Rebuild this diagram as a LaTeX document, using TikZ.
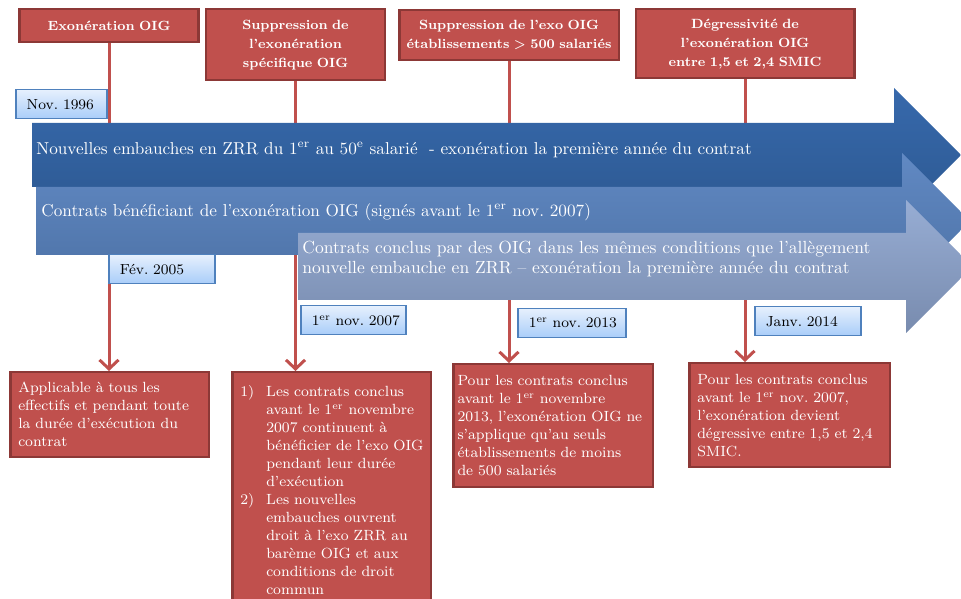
\documentclass[tikz,border=0pt]{standalone}
\usetikzlibrary{arrows.meta}
\definecolor{rouge}{HTML}{C0504D}
\definecolor{rougefonce}{HTML}{8C3836}
\definecolor{ciel}{HTML}{E6F0FD}
\definecolor{cielfonce}{HTML}{A9CDF9}
\definecolor{bleucadre}{HTML}{4F81BD}
\definecolor{bleuA}{HTML}{3769AC}
\definecolor{bleuAb}{HTML}{2C5890}
\definecolor{bleuB}{HTML}{6189C3}
\definecolor{bleuBb}{HTML}{4C71A5}
\definecolor{bleuC}{HTML}{97ADD4}
\definecolor{bleuCb}{HTML}{788BAE}
\begin{document}
\frenchspacing
\begin{tikzpicture}[
  haut/.style={draw=rougefonce, line width=0.5mm, fill=rouge, text=white, align=center, anchor=north,
    font=\fontsize{7.6}{10.8}\selectfont\bfseries, inner xsep=0.5mm, inner ysep=1.2mm},
  bas/.style={draw=rougefonce, line width=0.5mm, fill=rouge, text=white, align=left, anchor=north west,
    font=\fontsize{8.4}{10.25}\selectfont, inner xsep=1.6mm, inner ysep=1.6mm},
  datebox/.style={draw=bleucadre, line width=0.3mm, top color=ciel, bottom color=cielfonce, align=left,
    anchor=north west, font=\fontsize{8.3}{10}\selectfont, inner xsep=2.2mm, minimum height=5.8mm},
  texte/.style={text=white, anchor=west, inner sep=0pt, align=left, font=\fontsize{9.8}{11.4}\selectfont},
  lien/.style={draw=rouge, line width=0.6mm, -{Straight Barb[length=1.8mm,width=3.8mm]}}
]
\useasboundingbox (0,0) rectangle (192.2mm,119.8mm);

% cadres du haut
\node[haut, text width=34.8mm, minimum height=6.6mm] (t1) at (21.8mm,118.2mm) {Exonération OIG};
\node[haut, text width=34.8mm, minimum height=14.2mm] (t2) at (59.1mm,118.2mm) {Suppression de\\l’exonération\\spécifique OIG};
\node[haut, text width=42.9mm, minimum height=10mm] (t3) at (101.8mm,118.0mm) {Suppression de l’exo OIG\\établissements~>~500~salariés};
\node[haut, text width=42.7mm, minimum height=13.8mm] (t4) at (149.0mm,118.2mm) {Dégressivité de\\l’exonération OIG\\entre 1,5 et 2,4 SMIC};

% cadres du bas
\node[bas, text width=36.5mm, minimum height=17mm] (b1) at (1.8mm,45.6mm) {Applicable à tous les\\effectifs et pendant toute\\la durée d’exécution du\\contrat};
\node[bas, text width=36.5mm, minimum height=48mm, inner ysep=2mm] (b2) at (46.2mm,45.6mm) {%
\begin{tabular}{@{}p{5.2mm}@{}l@{}}
1) & Les contrats conclus\\
   & avant le 1\textsuperscript{er} novembre\\
   & 2007 continuent à\\
   & bénéficier de l’exo OIG\\
   & pendant leur durée\\
   & d’exécution\\
2) & Les nouvelles\\
   & embauches ouvrent\\
   & droit à l’exo ZRR au\\
   & barème OIG et aux\\
   & conditions de droit\\
   & commun
\end{tabular}};
\node[bas, text width=38.2mm, inner xsep=0.85mm, minimum height=24.6mm] (b3) at (90.4mm,47.2mm) {Pour les contrats conclus\\avant le 1\textsuperscript{er} novembre\\\mbox{2013, l’exonération OIG ne}\\s’applique qu’au seuls\\établissements de moins\\de 500 salariés};
\node[bas, text width=36.9mm, minimum height=20.8mm] (b4) at (137.6mm,47.4mm) {Pour les contrats conclus\\avant le 1\textsuperscript{er} nov. 2007,\\l’exonération devient\\dégressive entre 1,5 et 2,4\\SMIC.};

% liens
\draw[lien] (t1.south) -- (t1.south |- b1.north);
\draw[lien] (t2.south) -- (t2.south |- b2.north);
\draw[lien] (t3.south) -- (t3.south |- b3.north);
\draw[lien] (t4.south) -- (t4.south |- b4.north);

% flèche 1
\shade[top color=bleuA, bottom color=bleuAb] (6.4mm,95.2mm) -- (178.8mm,95.2mm) -- (178.8mm,102.2mm) -- (192.2mm,88.8mm)
  -- (178.8mm,75.4mm) -- (178.8mm,82.4mm) -- (6.4mm,82.4mm) -- cycle;
% flèche 2
\shade[top color=bleuB, bottom color=bleuBb] (7.2mm,82.4mm) -- (180.4mm,82.4mm) -- (180.4mm,89.2mm) -- (194.0mm,75.6mm)
  -- (180.4mm,62.0mm) -- (180.4mm,68.8mm) -- (7.2mm,68.8mm) -- cycle;
% flèche 3
\shade[top color=bleuC, bottom color=bleuCb] (59.6mm,73.2mm) -- (181.2mm,73.2mm) -- (181.2mm,79.8mm) -- (194.5mm,66.5mm)
  -- (181.2mm,53.2mm) -- (181.2mm,59.8mm) -- (59.6mm,59.8mm) -- cycle;

% textes des flèches
\node[texte] (f1) at (7.2mm,89.8mm) {Nouvelles embauches en ZRR du 1\textsuperscript{er} au 50\textsuperscript{e} salarié\ \ - exonération la première année du contrat};
\node[texte] (f2) at (8.2mm,77.4mm) {Contrats bénéficiant de l’exonération OIG (signés avant le 1\textsuperscript{er} nov. 2007)};
\node[texte, font=\fontsize{10}{11.4}\selectfont] (f3) at (60.4mm,68.0mm) {Contrats conclus par des OIG dans les mêmes conditions que l’allègement\\nouvelle embauche en ZRR – exonération la première année du contrat};

% dates
\node[datebox, text width=13.8mm] (d0) at (3.0mm,102.0mm) {Nov.~1996};
\node[datebox, text width=16.8mm] (d1) at (21.6mm,69.0mm) {Fév.~2005};
\node[datebox, text width=16.6mm] (d2) at (60.0mm,58.8mm) {1\textsuperscript{er}~nov.~2007};
\node[datebox, text width=17.2mm] (d3) at (103.4mm,58.2mm) {1\textsuperscript{er}~nov.~2013};
\node[datebox, text width=16.8mm] (d4) at (150.8mm,58.6mm) {Janv.~2014};
\end{tikzpicture}
\end{document}
